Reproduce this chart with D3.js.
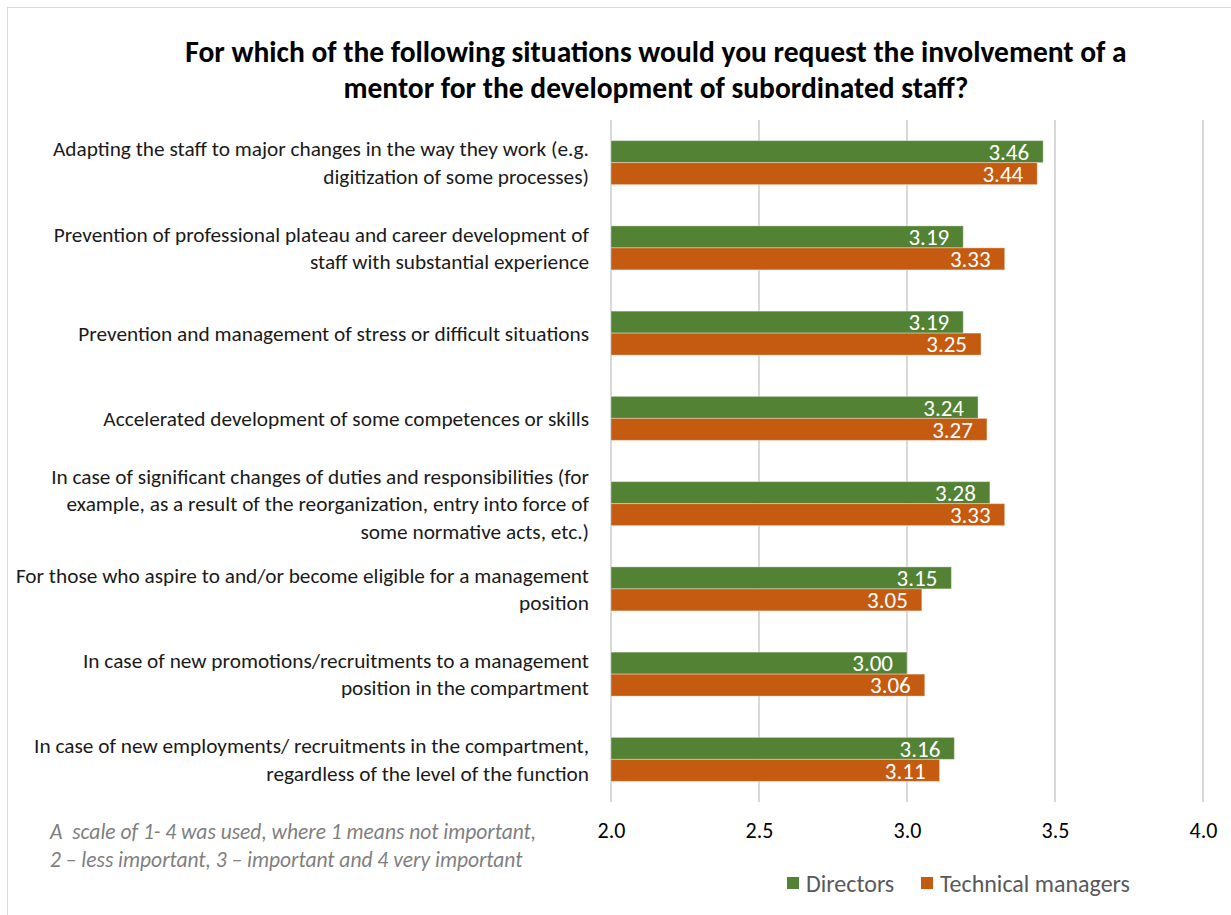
<!DOCTYPE html>
<html>
<head>
<meta charset="utf-8">
<script src="https://cdn.jsdelivr.net/npm/d3@7"></script>
<style>
  html, body { margin: 0; padding: 0; background: #fff; }
  svg { display: block; }
  text { font-family: Carlito, Lato, "Open Sans", sans-serif; }
</style>
</head>
<body>
<svg id="chart" width="1231" height="915"></svg>
<script>
// Survey categories (line breaks mark where each label wraps)
const categories = [
  "Adapting the staff to major changes in the way they work (e.g.\ndigitization of some processes)",
  "Prevention of professional plateau and career development of\nstaff with substantial experience",
  "Prevention and management of stress or difficult situations",
  "Accelerated development of some competences or skills",
  "In case of significant changes of duties and responsibilities (for\nexample, as a result of the reorganization, entry into force of\nsome normative acts, etc.)",
  "For those who aspire to and/or become eligible for a management\nposition",
  "In case of new promotions/recruitments to a management\nposition in the compartment",
  "In case of new employments/ recruitments in the compartment,\nregardless of the level of the function"
];
const seriesNames = ["Directors", "Technical managers"];
const directors = [3.46, 3.19, 3.19, 3.24, 3.28, 3.15, 3.00, 3.16];
const technicalManagers = [3.44, 3.33, 3.25, 3.27, 3.33, 3.05, 3.06, 3.11];
const xTicks = [2.0, 2.5, 3.0, 3.5, 4.0];
const titleLines = [
  "For which of the following situations would you request the involvement of a",
  "mentor for the development of subordinated staff?"
];
const noteLines = [
  "A  scale of 1- 4 was used, where 1 means not important,",
  "2 \u2013 less important, 3 \u2013 important and 4 very important"
];

const colors = { "Directors": "#548235", "Technical managers": "#C55A11" };
const seriesValues = { "Directors": directors, "Technical managers": technicalManagers };

const svg = d3.select("#chart");

// chart frame
svg.append("rect")
  .attr("x", 7.5).attr("y", 7.5)
  .attr("width", 1240).attr("height", 930)
  .attr("fill", "#fff").attr("stroke", "#d9d9d9").attr("stroke-width", 1);

const plot = { left: 611, right: 1203, top: 120, bottom: 802 };

const x = d3.scaleLinear().domain([2, 4]).range([plot.left, plot.right]);
const y = d3.scaleBand().domain(d3.range(categories.length))
  .range([plot.top, plot.bottom]).paddingInner(0.484).paddingOuter(0.242);
const ySub = d3.scaleBand().domain(seriesNames).range([0, y.bandwidth()]);

// title
svg.append("g").selectAll("text").data(titleLines).join("text")
  .attr("x", 656).attr("y", (d, i) => 62 + i * 36)
  .attr("text-anchor", "middle")
  .attr("font-size", 29.5).attr("font-weight", "bold").attr("fill", "#000")
  .text(d => d);

// vertical gridlines
svg.append("g").selectAll("line").data(xTicks).join("line")
  .attr("x1", d => x(d)).attr("x2", d => x(d))
  .attr("y1", plot.top).attr("y2", plot.bottom)
  .attr("stroke", "#d9d9d9").attr("stroke-width", 2);

// x axis tick labels
const xAxis = d3.axisBottom(x).tickValues(xTicks).tickFormat(d3.format(".1f")).tickSize(0).tickPadding(0);
const gx = svg.append("g").attr("transform", `translate(0, ${plot.bottom + 20})`).call(xAxis);
gx.select(".domain").remove();
gx.selectAll("text").attr("font-size", 22).attr("fill", "#000")
  .attr("font-family", "Carlito, Lato, sans-serif");

// category labels
const catG = svg.append("g");
categories.forEach((c, i) => {
  const lines = c.split("\n");
  const cy = y(i) + y.bandwidth() / 2;
  const lh = 27.5;
  const t = catG.append("text")
    .attr("text-anchor", "end").attr("font-size", 21.3).attr("fill", "#1a1a1a");
  lines.forEach((ln, j) => {
    t.append("tspan").attr("x", 589)
      .attr("y", cy + (j - (lines.length - 1) / 2) * lh)
      .attr("dy", "0.35em").text(ln);
  });
});

// bars and value labels
const barG = svg.append("g");
seriesNames.forEach(s => {
  const vals = seriesValues[s];
  barG.selectAll(null).data(vals).join("rect")
    .attr("x", x(2))
    .attr("y", (d, i) => y(i) + ySub(s))
    .attr("width", d => x(d) - x(2))
    .attr("height", ySub.bandwidth())
    .attr("fill", colors[s])
    .attr("stroke", "#fff").attr("stroke-opacity", 0.35).attr("stroke-width", 1);
  barG.selectAll(null).data(vals).join("text")
    .attr("x", d => x(d) - 14)
    .attr("y", (d, i) => y(i) + ySub(s) + ySub.bandwidth() / 2)
    .attr("dy", "0.36em")
    .attr("text-anchor", "end").attr("font-size", 23).attr("fill", "#fff")
    .text(d => d3.format(".2f")(d));
});

// scale note
svg.append("g").selectAll("text").data(noteLines).join("text")
  .attr("x", 50).attr("y", (d, i) => 839 + i * 28)
  .style("white-space", "pre")
  .attr("font-size", 21.5).attr("font-style", "italic").attr("fill", "#7f7f7f")
  .text(d => d);

// legend
const legend = svg.append("g");
const legendItems = [
  { name: "Directors", x: 787 },
  { name: "Technical managers", x: 921 }
];
legendItems.forEach(it => {
  legend.append("rect").attr("x", it.x).attr("y", 877)
    .attr("width", 12).attr("height", 12).attr("fill", colors[it.name]);
  legend.append("text").attr("x", it.x + 19).attr("y", 883).attr("dy", "0.36em")
    .attr("font-size", 24).attr("fill", "#595959").text(it.name);
});
</script>
</body>
</html>
